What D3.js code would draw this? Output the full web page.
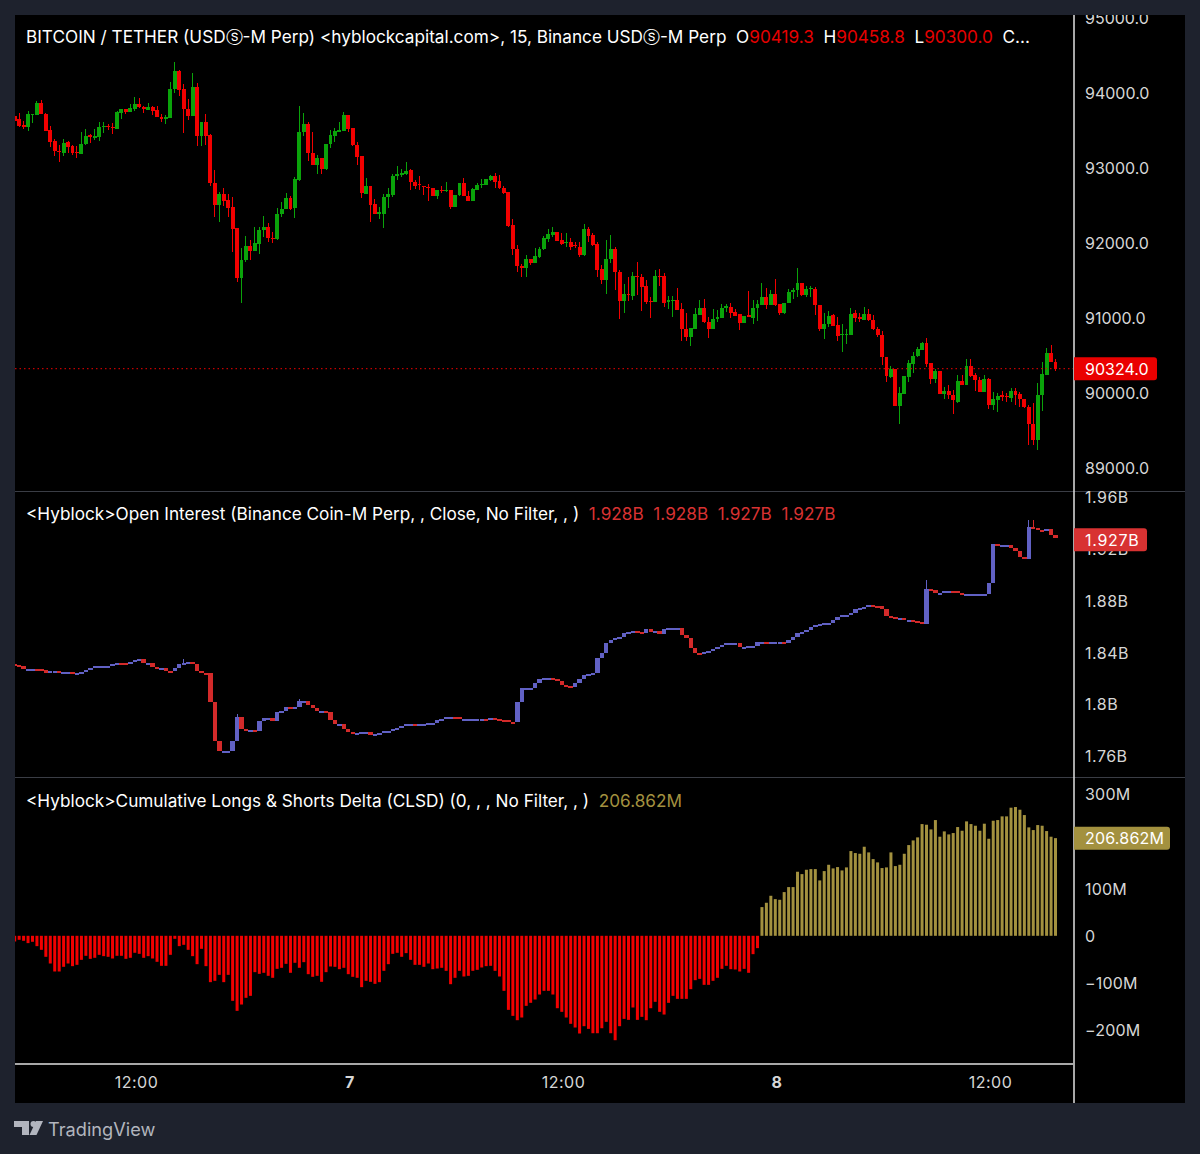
<!DOCTYPE html>
<html>
<head>
<meta charset="utf-8">
<title>BTCUSDT 15m</title>
<script src="https://cdn.jsdelivr.net/npm/d3@7"></script>
<style>
    html, body { margin: 0; padding: 0; background: #1e222d; }
    svg { display: block; font-family: Inter, "Noto Sans", sans-serif; }
</style>
</head>
<body>
<svg id="chart" width="1200" height="1154"></svg>
<script>
// price candles, 15 min bars
const priceOpen = [
    93698,93649,93569,93546,93715,93711,93866,93724,93506,93364,
    93231,93195,93342,93293,93213,93186,93315,93435,93409,93409,
    93546,93560,93551,93524,93733,93782,93746,93791,93853,93818,
    93773,93818,93773,93684,93658,93666,94049,94289,94049,93786,
    93698,94080,93426,93609,93440,92800,92506,92653,92573,92480,
    92200,91538,91769,91960,91893,91991,92173,92213,92071,92049,
    92387,92453,92600,92462,92840,93475,93582,93204,93040,93133,
    92982,93315,93431,93489,93493,93706,93533,93311,93160,92658,
    92764,92515,92391,92391,92613,92640,92889,92920,92920,92969,
    92818,92787,92760,92743,92734,92627,92707,92689,92707,92485,
    92636,92796,92627,92565,92707,92769,92778,92840,92894,92823,
    92738,92680,92240,91920,91698,91667,91791,91738,91818,91916,
    92054,92112,92147,92036,92005,92009,91978,91947,91840,92183,
    92103,91992,91649,91503,91783,91920,91618,91223,91320,91294,
    91565,91547,91423,91232,91214,91565,91560,91223,91223,91240,
    91116,90854,90747,90858,91040,91134,90952,90854,90987,91000,
    91143,91147,91080,91049,90934,91040,91000,91129,91174,91280,
    91174,91325,91186,91062,91195,91355,91373,91471,91306,91382,
    91391,91173,90849,90915,91040,90907,90773,90773,90778,91062,
    91009,90973,91053,90973,90858,90778,90480,90209,90324,89827,
    89987,90218,90386,90493,90573,90671,90395,90182,90298,89987,
    90022,89978,89880,90155,90106,90360,90235,90173,90018,90191,
    89835,89907,89969,89960,89929,90031,89987,89924,89818,89587,
    89373,89969,90244,90529,90419
];
const priceHigh = [
    93760,93729,93626,93760,93724,93893,93906,93737,93560,93382,
    93302,93382,93355,93302,93293,93480,93520,93449,93515,93613,
    93618,93582,93595,93760,93791,93791,93853,93946,93933,93831,
    93866,93826,93826,93720,93706,94146,94413,94306,94115,93924,
    94271,94129,93609,93720,93453,92969,92680,92733,92653,92613,
    92200,91929,92093,92040,92209,92218,92360,92267,92151,92467,
    92546,92662,92631,92880,93826,93729,93618,93484,93173,93133,
    93320,93506,93529,93618,93746,93706,93533,93342,93160,92862,
    92764,92587,92475,92653,92733,92920,93027,92987,93080,92983,
    92840,92894,92760,92787,92734,92703,92760,92814,92707,92640,
    92805,92867,92694,92734,92805,92858,92849,92911,92929,92903,
    92760,92680,92316,91969,91720,91836,91791,91938,91943,92094,
    92187,92218,92147,92129,92129,92071,92009,92014,92249,92209,
    92129,92014,91703,92040,92107,91943,91640,91449,91552,91614,
    91747,91587,91503,91280,91636,91654,91596,91294,91294,91400,
    91196,91067,90872,91129,91240,91258,91009,91125,91107,91192,
    91192,91200,91120,91054,91032,91360,91240,91240,91463,91396,
    91374,91516,91186,91204,91382,91395,91662,91471,91426,91426,
    91409,91173,91062,91098,91053,91009,90920,90849,91133,91106,
    91071,91151,91115,91044,90884,90822,90480,90360,90324,90075,
    90227,90440,90551,90609,90680,90729,90395,90324,90298,90084,
    90102,90040,90240,90244,90458,90449,90271,90218,90235,90200,
    90018,89995,90031,89995,90066,90062,90018,89924,89835,89871,
    90129,90418,90595,90635,90459
];
const priceLow = [
    93618,93551,93524,93493,93604,93706,93715,93489,93275,93160,
    93084,93164,93195,93173,93129,93186,93311,93333,93378,93360,
    93466,93511,93458,93520,93649,93724,93742,93755,93800,93733,
    93773,93706,93675,93618,93591,93666,93995,93960,93466,93640,
    93693,93293,93293,93311,92764,92346,92280,92493,92346,91880,
    91480,91200,91747,91773,91893,91853,92084,92013,91995,92044,
    92342,92449,92444,92333,92831,93426,93093,93035,92920,92920,
    92973,93271,93346,93484,93489,93484,93293,93040,92600,92653,
    92284,92387,92320,92200,92471,92613,92840,92876,92903,92707,
    92725,92707,92640,92565,92623,92591,92663,92685,92458,92480,
    92631,92623,92560,92560,92703,92734,92774,92831,92734,92725,
    92654,92218,91840,91614,91547,91547,91707,91738,91796,91912,
    92014,92080,92023,91969,91947,91903,91938,91814,91832,92014,
    91960,91543,91454,91320,91734,91374,90983,91067,91223,91245,
    91312,91098,91187,91000,91209,91432,91152,91116,91018,91107,
    90689,90689,90627,90854,91036,90934,90734,90849,90943,90996,
    91080,91000,91027,90840,90929,91009,90920,90956,91169,91120,
    91169,91165,91040,91053,91195,91249,91275,91297,91275,91284,
    91035,90831,90715,90875,90893,90693,90551,90653,90773,90946,
    90946,90969,90964,90844,90742,90373,90151,90204,89827,89582,
    89982,90146,90262,90484,90573,90351,90124,90129,89987,89915,
    89915,89724,89871,90102,90102,90218,90027,90009,90018,89782,
    89769,89746,89898,89884,89880,89840,89818,89800,89302,89302,
    89240,89755,90240,90409,90300
];
const priceClose = [
    93631,93560,93542,93715,93724,93866,93720,93493,93346,93226,
    93209,93338,93284,93195,93200,93320,93426,93418,93422,93546,
    93560,93546,93537,93746,93786,93751,93800,93857,93809,93782,
    93818,93764,93680,93658,93675,94057,94289,94044,93782,93698,
    94080,93426,93609,93426,92795,92506,92653,92564,92471,92186,
    91538,91773,91960,91898,91995,92173,92213,92067,92049,92391,
    92458,92600,92453,92853,93480,93582,93200,93040,93133,92982,
    93320,93435,93493,93502,93706,93515,93302,93151,92662,92764,
    92506,92391,92409,92618,92649,92893,92915,92929,92965,92814,
    92765,92769,92743,92729,92627,92703,92689,92703,92485,92640,
    92796,92627,92565,92720,92774,92791,92849,92894,92814,92729,
    92663,92227,91916,91694,91672,91787,91738,91832,91920,92067,
    92120,92143,92027,91983,92018,91951,91960,91840,92183,92094,
    91978,91640,91503,91787,91925,91609,91223,91316,91303,91560,
    91552,91414,91214,91218,91560,91552,91200,91236,91240,91112,
    90849,90747,90863,91049,91134,90943,90854,90987,91009,91134,
    91156,91072,91032,90934,91032,91014,91134,91183,91280,91174,
    91320,91174,91062,91195,91351,91369,91462,91302,91382,91400,
    91169,90849,90920,91031,90898,90760,90786,90786,91057,90995,
    90986,91049,90973,90849,90769,90480,90231,90324,89827,90000,
    90227,90395,90498,90591,90671,90386,90186,90298,89987,90022,
    89969,89907,90155,90106,90355,90231,90169,90018,90191,89844,
    89915,89960,89951,89942,90031,89978,89924,89809,89587,89373,
    89973,90253,90529,90413,90324
];

// open interest closes, in millions
const oiClose = [
    1830.3,1829.8,1827,1827.2,1827.2,1827,1826.2,1824.1,1825.4,1825.4,
    1824.6,1824.9,1824.9,1823.6,1823.9,1824.9,1826.4,1828.2,1829.5,1829.5,
    1829.5,1829.5,1830.8,1831.8,1831.6,1831.1,1832.4,1834.2,1834.7,1831.6,
    1832.1,1829,1827.7,1827.7,1825.9,1825.7,1827.7,1830.8,1832.1,1832.4,
    1831.1,1825.7,1824.4,1824.1,1802,1771.4,1763.9,1763.9,1763.9,1771.4,
    1789.9,1780.6,1779.6,1780.1,1779.6,1787.1,1789.1,1789.6,1787.3,1793.8,
    1795.1,1797.9,1796.9,1797.6,1802.5,1802.8,1799.4,1796.9,1794.8,1794.8,
    1793.8,1787.8,1784.5,1784.5,1781.2,1778.3,1778.1,1778.1,1778.6,1778.6,
    1776.3,1777,1777.6,1779.1,1779.6,1781.2,1781.9,1783.5,1784.5,1784.5,
    1784.2,1785,1785,1785.3,1785.8,1787.6,1788.9,1789.9,1790.2,1789.9,
    1788.6,1788.9,1788.9,1788.9,1788.9,1788.9,1788.4,1789.1,1788.6,1787.8,
    1787.6,1786.3,1786,1802,1812.3,1812.5,1812.5,1816.4,1819.5,1820,
    1820,1819.3,1818.2,1814.9,1814.1,1813.6,1816.2,1819.3,1822.3,1823.6,
    1823.9,1836,1839.8,1847,1849.6,1850.9,1852.2,1854.8,1856,1856.8,
    1855.8,1855.3,1857.8,1856,1856.3,1854.2,1857.8,1859.1,1859.1,1859.1,
    1853.7,1850.9,1843.2,1839.8,1838.8,1840.1,1840.9,1842.4,1844,1845.8,
    1847.6,1847.6,1847.6,1844,1844.5,1845,1845.2,1848.1,1848.1,1847.6,
    1847.8,1848.1,1848.1,1847.6,1849.6,1851.7,1854.8,1855.5,1857.3,1859.4,
    1861.4,1861.7,1863,1863,1865,1867.1,1868.7,1869.2,1870.7,1873.3,
    1874.3,1874.8,1876.4,1876.1,1875.6,1873.8,1868.1,1867.4,1866.1,1866.6,
    1865,1865,1864,1863.5,1862,1888.7,1888.2,1885.6,1886.1,1887.2,
    1887.7,1887.2,1885.6,1885.1,1885.1,1885.1,1885.1,1885.1,1885.1,1893.9,
    1923.5,1922.2,1922.7,1922.7,1920.6,1918,1914,1911.9,1937.1,1935.8,
    1934.5,1933.5,1935,1930.7,1928.1
];
const oiFirstOpen = 1830.8;
const oiSpikeBars = [38, 50, 64, 205, 228, 229];
const oiSpikeHighs = [1835, 1792.5, 1804, 1896, 1942.2, 1942.2];

// cumulative longs & shorts delta, in millions
const clsd = [
    -12,-8.5,-10.6,-15.5,-12.7,-21.9,-29.7,-44.5,-58.7,-75.6,
    -75.6,-65.7,-58.7,-64.3,-61.5,-50.9,-42.4,-48.8,-46.6,-40.3,
    -43.1,-44.5,-48.1,-42.4,-42.4,-48.8,-46.6,-36,-38.2,-46.6,
    -43.1,-48.1,-55.1,-63.6,-63.6,-40.3,-6.4,-21.9,-19.1,-29.7,
    -43.1,-60.1,-27.6,-64.3,-98.2,-95.4,-82.7,-98.2,-82.7,-137.8,
    -159,-145.6,-131.4,-127.2,-77,-80.6,-78.4,-84.8,-89,-70,
    -67.8,-59.4,-78.4,-57.2,-67.8,-55.8,-81.3,-86.9,-84.8,-97.5,
    -77,-65,-65.7,-70.7,-67.8,-81.3,-86.9,-89,-108.8,-95.4,
    -97.5,-101.8,-98.2,-74.2,-60.1,-38.2,-36,-44.5,-36.7,-50.9,
    -61.5,-61.5,-65.7,-58.7,-70.7,-69.3,-67.8,-74.2,-102.5,-89,
    -74.2,-86.2,-84.8,-74.2,-72.1,-67.1,-64.3,-63.6,-74.2,-86.2,
    -116.6,-156.9,-169.6,-178.8,-173.1,-148.4,-142,-135,-124.4,-116.6,
    -116.6,-124.4,-153.4,-161.1,-173.1,-186.5,-194.3,-207,-191.5,-197.2,
    -206.4,-206.4,-195.8,-182.3,-206.4,-221.2,-191.5,-176,-178.1,-151.9,
    -178.1,-171.7,-178.8,-153.4,-139.9,-161.1,-166.8,-142,-127.2,-133.6,
    -133.6,-133.6,-113.1,-94,-91.2,-103.9,-103.9,-95.4,-89,-70,
    -63.6,-70.7,-71.4,-75.6,-70,-78.4,-38.9,-26.1,60.8,70,
    84.8,77.7,76.3,92.6,103.2,103.2,135.7,130.7,139.9,141.3,
    141.3,117.3,137.1,150.5,142.8,145.6,138.5,144.9,179.5,175.3,
    173.8,188.7,176.7,162.5,155.5,143.5,144.9,176.7,147.7,150.5,
    173.8,192.2,202.1,208.5,236.7,235.3,225.4,245.2,209.9,221.2,
    214.8,217.7,230.4,222.6,242.4,236.7,233.2,222.6,237.5,205.6,
    243.8,245.2,253,253,271.4,272.8,267.1,255.8,229.7,224,
    234.6,233.2,221.9,209.9,206.9
];

// axis ticks
const priceTicks = [89000, 90000, 91000, 92000, 93000, 94000, 95000];
const oiTicks = [1760, 1800, 1840, 1880, 1920, 1960];
const oiTickLabels = ["1.76B", "1.8B", "1.84B", "1.88B", "1.92B", "1.96B"];
const clsdTicks = [-200, -100, 0, 100, 300];
const clsdTickLabels = ["\u2212200M", "\u2212100M", "0", "100M", "300M"];
const timeTickBars = [27, 75, 123, 171, 219];
const timeTickLabels = ["12:00", "7", "12:00", "8", "12:00"];

const lastPrice = 90324;
const lastOi = 1927;
const lastClsd = 206.862;

const svg = d3.select("#chart");

const COLORS = {
    bg: "#1e222d",
    up: "#0aa30a",
    down: "#f20000",
    oiUp: "#6161c4",
    oiDown: "#d32a2a",
    gold: "#a3913f",
    axis: "#d6d6d6",
    sep: "#3a3d45"
};

const panelLeft = 15;
const panelRight = 1073;
const outerRight = 1185;
const panelTop = 15;
const panelBottom = 1103;

const x = d3.scaleLinear().domain([0, 234]).range([14.7, 1055.5]);
const yPrice = d3.scaleLinear().domain([89000, 94000]).range([468, 93]);
const yOi = d3.scaleLinear().domain([1760, 1960]).range([756, 497]);
const yClsd = d3.scaleLinear().domain([-200, 300]).range([1030.2, 794.2]);

svg.append("rect").attr("width", 1200).attr("height", 1154).attr("fill", COLORS.bg);
svg.append("rect")
    .attr("x", panelLeft).attr("y", panelTop)
    .attr("width", outerRight - panelLeft).attr("height", panelBottom - panelTop)
    .attr("fill", "#000");

// one clip per pane
const panes = [
    { id: "clip-price", y0: panelTop, y1: 491 },
    { id: "clip-oi", y0: 492, y1: 777 },
    { id: "clip-clsd", y0: 778, y1: 1064 }
];
const defs = svg.append("defs");
panes.forEach((p) => {
    defs.append("clipPath").attr("id", p.id).append("rect")
        .attr("x", panelLeft).attr("y", p.y0)
        .attr("width", panelRight - panelLeft).attr("height", p.y1 - p.y0);
});

function drawCandles(id, rows, yScale, upColor, downColor, bodyWidth, minHeight) {
    const g = svg.append("g").attr("clip-path", `url(#${id})`)
        .attr("shape-rendering", "crispEdges");
    const color = (d) => (d.c >= d.o ? upColor : downColor);
    g.selectAll("line").data(rows).join("line")
        .attr("x1", (d) => x(d.i)).attr("x2", (d) => x(d.i))
        .attr("y1", (d) => yScale(d.h)).attr("y2", (d) => yScale(d.l))
        .attr("stroke", color).attr("stroke-width", 1);
    g.selectAll("rect").data(rows).join("rect")
        .attr("x", (d) => x(d.i) - bodyWidth / 2)
        .attr("width", bodyWidth)
        .attr("y", (d) => yScale(Math.max(d.o, d.c)))
        .attr("height", (d) => Math.max(minHeight, Math.abs(yScale(d.o) - yScale(d.c))))
        .attr("fill", color);
}

// price pane
const candleRows = priceOpen.map((o, i) => ({
    i, o, h: priceHigh[i], l: priceLow[i], c: priceClose[i]
}));
drawCandles("clip-price", candleRows, yPrice, COLORS.up, COLORS.down, 3.9, 1.2);

svg.append("line")
    .attr("x1", panelLeft).attr("x2", panelRight)
    .attr("y1", yPrice(lastPrice)).attr("y2", yPrice(lastPrice))
    .attr("stroke", COLORS.down).attr("stroke-width", 1)
    .attr("stroke-dasharray", "1.5 3");

// open interest pane
const oiRows = oiClose.map((c, i) => {
    const o = i === 0 ? oiFirstOpen : oiClose[i - 1];
    const spike = oiSpikeBars.indexOf(i);
    return {
        i, o, c,
        h: spike >= 0 ? oiSpikeHighs[spike] : Math.max(o, c),
        l: Math.min(o, c)
    };
});
drawCandles("clip-oi", oiRows, yOi, COLORS.oiUp, COLORS.oiDown, 4.4, 2);

// cumulative delta pane
svg.append("g").attr("clip-path", "url(#clip-clsd)")
    .selectAll("rect").data(clsd).join("rect")
    .attr("x", (d, i) => x(i) - 1.5)
    .attr("width", 3)
    .attr("y", (d) => Math.min(yClsd(0), yClsd(d)))
    .attr("height", (d) => Math.abs(yClsd(d) - yClsd(0)))
    .attr("fill", (d) => (d < 0 ? COLORS.down : COLORS.gold));

// pane separators and axis borders
[491, 777].forEach((y) => {
    svg.append("line").attr("x1", panelLeft).attr("x2", outerRight)
        .attr("y1", y + 0.5).attr("y2", y + 0.5)
        .attr("stroke", COLORS.sep);
});
svg.append("line").attr("x1", panelLeft).attr("x2", panelRight)
    .attr("y1", 1064).attr("y2", 1064)
    .attr("stroke", "#e0e0e0").attr("stroke-width", 1.5);
svg.append("line").attr("x1", 1074).attr("x2", 1074)
    .attr("y1", panelTop).attr("y2", panelBottom)
    .attr("stroke", "#e0e0e0").attr("stroke-width", 1.5);

// right axes
function rightAxis(scale, ticks, format, spacing) {
    const g = svg.append("g")
        .attr("transform", "translate(1074,0.5)")
        .call(d3.axisRight(scale).tickValues(ticks).tickSize(0).tickPadding(11).tickFormat(format));
    g.select(".domain").remove();
    g.selectAll("text")
        .attr("fill", COLORS.axis)
        .attr("font-family", "Inter, 'Noto Sans', sans-serif")
        .attr("font-size", 16)
        .attr("letter-spacing", spacing);
}

rightAxis(yPrice, priceTicks, (d) => d3.format(".1f")(d), 0);
rightAxis(yOi, oiTicks, (d, i) => oiTickLabels[i], 0.5);
rightAxis(yClsd, clsdTicks, (d, i) => clsdTickLabels[i], 0.2);

// 95000.0 gets cut by the panel edge
svg.append("rect").attr("x", 1075).attr("y", 0).attr("width", 125).attr("height", panelTop).attr("fill", COLORS.bg);

// time axis
const timeAxis = svg.append("g")
    .attr("transform", "translate(1.2,1064)")
    .call(d3.axisBottom(x).tickValues(timeTickBars).tickSize(0).tickPadding(13)
        .tickFormat((d, i) => timeTickLabels[i]));
timeAxis.select(".domain").remove();
timeAxis.selectAll("text")
    .attr("fill", COLORS.axis)
    .attr("font-family", "Inter, 'Noto Sans', sans-serif")
    .attr("font-size", 16)
    .attr("letter-spacing", 0.5)
    .attr("font-weight", (d, i) => (timeTickLabels[i].length === 1 ? 700 : 400));

// last value tags
function valueTag(scale, value, label, color, w, spacing) {
    const y = scale(value);
    const h = 23;
    const r = 3;
    const x0 = 1074;
    svg.append("path")
        .attr("d", `M${x0},${y - h / 2}H${x0 + w - r}Q${x0 + w},${y - h / 2} ${x0 + w},${y - h / 2 + r}V${y + h / 2 - r}Q${x0 + w},${y + h / 2} ${x0 + w - r},${y + h / 2}H${x0}Z`)
        .attr("fill", color);
    svg.append("text")
        .attr("x", x0 + 11).attr("y", y + 6)
        .attr("fill", "#fff").attr("font-size", 16)
        .attr("letter-spacing", spacing)
        .text(label);
}
valueTag(yPrice, lastPrice, "90324.0", "#ea0000", 83, 0);
valueTag(yOi, lastOi, "1.927B", "#d83232", 73, 0.7);
valueTag(yClsd, lastClsd, "206.862M", COLORS.gold, 96, 0.2);

// legends
function legend(y, parts) {
    const t = svg.append("text").attr("x", 26).attr("y", y)
        .attr("font-size", 17.2).attr("xml:space", "preserve");
    parts.forEach(([s, fill]) => {
        t.append("tspan").attr("fill", fill).text(s);
    });
}
legend(43, [
    ["BITCOIN / TETHER (USD\u24e2-M Perp) <hyblockcapital.com>, 15, Binance USD\u24e2-M Perp  O", "#fff"],
    ["90419.3", "#e60000"], ["  H", "#fff"], ["90458.8", "#e60000"],
    ["  L", "#fff"], ["90300.0", "#e60000"], ["  C...", "#fff"]
]);
legend(520, [
    ["<Hyblock>Open Interest (Binance Coin-M Perp, , Close, No Filter, , )  ", "#fff"],
    ["1.928B  1.928B  1.927B  1.927B", "#d83232"]
]);
legend(807, [
    ["<Hyblock>Cumulative Longs & Shorts Delta (CLSD) (0, , , No Filter, , )  ", "#fff"],
    ["206.862M", COLORS.gold]
]);

// watermark
const logo = svg.append("g").attr("fill", "#b2b5be");
logo.append("path").attr("d", "M14,1121H29V1135H22V1127H14Z");
logo.append("circle").attr("cx", 33.5).attr("cy", 1124).attr("r", 3);
logo.append("path").attr("d", "M36,1121H43L36.5,1135H29.5Z");
svg.append("text").attr("x", 48).attr("y", 1136)
    .attr("fill", "#b2b5be").attr("font-size", 18.2).text("TradingView");
</script>
</body>
</html>
